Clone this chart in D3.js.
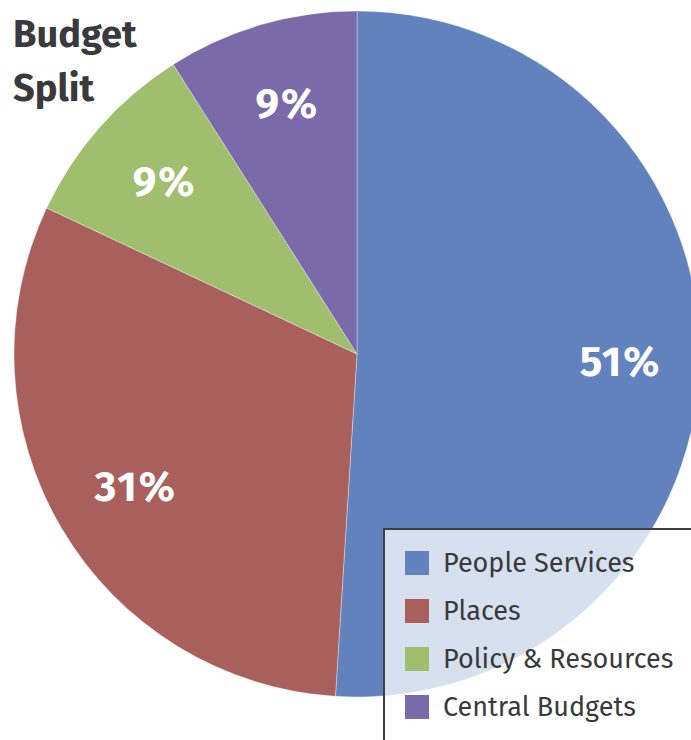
<!DOCTYPE html>
<html lang="en">
<head>
  <meta charset="utf-8">
  <script src="https://d3js.org/d3.v7.min.js"></script>
  <style>
    body { margin: 0; background: #fff; }
    svg { display: block; font-family: "Fira Sans", "Noto Sans", sans-serif; }
  </style>
</head>
<body>
  <div id="chart"></div>
  <script>
  const width = 691
  const height = 740

  // data
  const categories = ["People Services", "Places", "Policy & Resources", "Central Budgets"]
  const shares = [51, 31, 9, 9]
  const colors = ["#6282be", "#a95f5c", "#9fbe6e", "#7b6aa9"]

  const cx = 357, cy = 354, R = 343

  const colorScale = d3.scaleOrdinal().domain(categories).range(colors)

  const data = categories.map((c, i) => ({ name: c, value: shares[i] }))

  const svg = d3.select("#chart").append("svg")
      .attr("width", width)
      .attr("height", height)

  const pie = d3.pie().sort(null).value(d => d.value)
  const arc = d3.arc().innerRadius(0).outerRadius(R)
  const labelArc = d3.arc().innerRadius(R * 0.76).outerRadius(R * 0.76)

  const g = svg.append("g").attr("transform", `translate(${cx},${cy})`)

  const arcs = pie(data)

  g.selectAll("path")
    .data(arcs)
    .enter().append("path")
      .attr("d", arc)
      .attr("fill", d => colorScale(d.data.name))
      .attr("stroke", "rgba(255,255,255,0.35)")
      .attr("stroke-width", 1)

  g.selectAll("text.pct")
    .data(arcs)
    .enter().append("text")
      .attr("class", "pct")
      .attr("transform", d => `translate(${labelArc.centroid(d)})`)
      .attr("text-anchor", "middle")
      .attr("dx", "3px")
      .attr("dy", "0.34em")
      .attr("fill", "#fff")
      .style("font-size", "42px")
      .style("font-weight", "bold")
      .style("letter-spacing", "2px")
      .text(d => d.data.value + "%")

  // title
  const title = svg.append("text")
      .attr("fill", "#3a3a3c")
      .style("font-size", "38px")
      .style("font-weight", "bold")
  title.append("tspan").attr("x", 13).attr("y", 47).text("Budget")
  title.append("tspan").attr("x", 13).attr("y", 101).text("Split")

  // legend
  const legend = svg.append("g").attr("transform", "translate(384,529)")
  legend.append("rect")
      .attr("width", 330)
      .attr("height", 240)
      .attr("fill", "rgba(255,255,255,0.75)")
      .attr("stroke", "#3f3f3f")
      .attr("stroke-width", 2)

  const items = legend.selectAll("g.item")
    .data(categories)
    .enter().append("g")
      .attr("class", "item")
      .attr("transform", (d, i) => `translate(21,${22 + i * 48})`)

  items.append("rect")
      .attr("width", 24)
      .attr("height", 24)
      .attr("fill", d => colorScale(d))

  items.append("text")
      .attr("x", 38)
      .attr("y", 11)
      .attr("dy", "0.36em")
      .attr("fill", "#3a3a3c")
      .style("font-size", "27px")
      .text(d => d)
  </script>
</body>
</html>
